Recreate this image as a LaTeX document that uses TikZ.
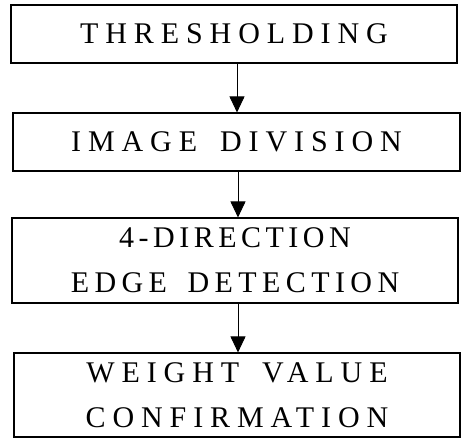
\documentclass[tikz,border=0pt]{standalone}
\usepackage{fontspec}
\setmainfont[LetterSpace=23,WordSpace=1.6]{Liberation Serif}
\usetikzlibrary{arrows.meta}
\tikzset{
  stepbox/.style={draw=black, line width=1.1pt, inner sep=0pt, align=center,
    font=\fontsize{30}{45}\selectfont},
  arr/.style={line width=0.9pt, -{Triangle[length=16pt,width=15pt]}}
}
\begin{document}
\begin{tikzpicture}[x=1pt,y=-1pt]
\useasboundingbox (0,0) rectangle (461,439);
\node[stepbox, minimum width=446pt, minimum height=58pt] (b1) at (234,34) {THRESHOLDING};
\node[stepbox, minimum width=447pt, minimum height=58pt] (b2) at (236.5,142) {IMAGE DIVISION};
\node[stepbox, minimum width=446pt, minimum height=85pt] (b3) at (235,260.5) {\addfontfeatures{LetterSpace=15}4-DIRECTION\\\addfontfeatures{LetterSpace=18}EDGE DETECTION};
\node[stepbox, minimum width=446pt, minimum height=84pt] (b4) at (237,395) {WEIGHT VALUE\\CONFIRMATION};
\coordinate (ax1) at (237,0);
\coordinate (ax2) at (238,0);
\draw[arr] (b1.south -| ax1) -- (b2.north -| ax1);
\draw[arr] (b2.south -| ax2) -- (b3.north -| ax2);
\draw[arr] (b3.south -| ax2) -- (b4.north -| ax2);
\end{tikzpicture}
\end{document}
